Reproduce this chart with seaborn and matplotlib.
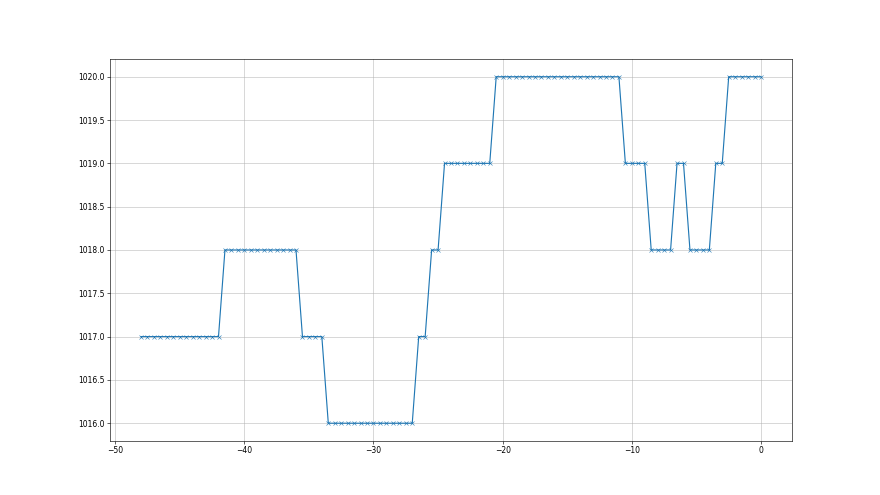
import matplotlib
matplotlib.use("Agg")
import matplotlib.pyplot as plt
import seaborn as sns
import numpy as np
import pandas as pd

# Segments: (start x, end x, pressure value), x step 0.5
seg_starts = [-48.0, -41.5, -35.5, -33.5, -26.5, -25.5, -24.5, -20.5, -10.5, -8.5, -6.5, -5.5, -3.5, -2.5]
seg_ends   = [-42.0, -36.0, -34.0, -27.0, -26.0, -25.0, -21.0, -11.0, -9.0, -7.0, -6.0, -4.0, -3.0, 0.0]
seg_values = [1017, 1018, 1017, 1016, 1017, 1018, 1019, 1020, 1019, 1018, 1019, 1018, 1019, 1020]

xs, ys = [], []
for s, e, v in zip(seg_starts, seg_ends, seg_values):
    n = int(round((e - s) / 0.5)) + 1
    for i in range(n):
        xs.append(s + 0.5 * i)
        ys.append(float(v))
df = pd.DataFrame({"x": xs, "y": ys})

fig, ax = plt.subplots(figsize=(16, 9), dpi=55)
sns.lineplot(data=df, x="x", y="y", marker="x", ax=ax, color="#1f77b4",
             markeredgecolor="#1f77b4", markersize=6, linewidth=1.5)
ax.grid(True, color="#b0b0b0", linewidth=0.8, alpha=0.8)
ax.set_xlabel("")
ax.set_ylabel("")
ax.yaxis.set_major_formatter(matplotlib.ticker.FormatStrFormatter("%.1f"))
fig.savefig("out.png", dpi=55)
